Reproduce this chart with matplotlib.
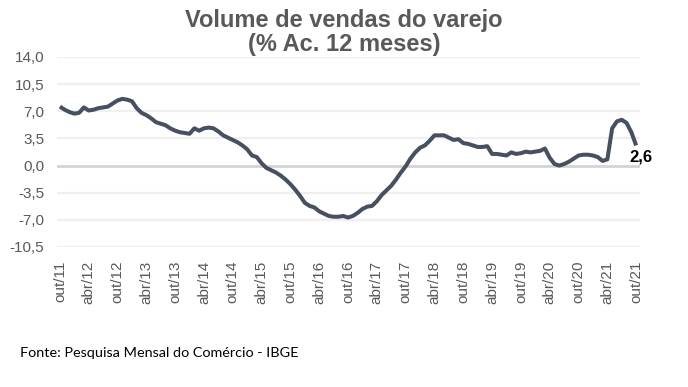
import matplotlib
matplotlib.use("Agg")
import matplotlib.pyplot as plt
import numpy as np

# Monthly values, out/2011 .. out/2021 (12-month accumulated %, retail volume)
values = [
    7.6, 7.2, 6.9, 6.7, 6.8, 7.5, 7.1, 7.2, 7.4, 7.5,      # out/11 - jul/12
    7.6, 8.0, 8.4, 8.6, 8.5, 8.3, 7.4, 6.8, 6.5, 6.1,      # ago/12 - mai/13
    5.6, 5.4, 5.2, 4.8, 4.5, 4.3, 4.2, 4.1, 4.8, 4.5,      # jun/13 - mar/14
    4.8, 4.9, 4.8, 4.4, 3.9, 3.6, 3.3, 3.0, 2.6, 2.1,      # abr/14 - jan/15
    1.3, 1.1, 0.3, -0.3, -0.6, -0.9, -1.3, -1.8, -2.4, -3.1,  # fev/15 - nov/15
    -3.9, -4.8, -5.2, -5.4, -5.9, -6.2, -6.5, -6.6, -6.6, -6.5,  # dez/15 - set/16
    -6.7, -6.5, -6.1, -5.6, -5.3, -5.2, -4.6, -3.8, -3.2, -2.6,  # out/16 - jul/17
    -1.8, -0.9, -0.1, 0.9, 1.7, 2.3, 2.6, 3.2, 3.9, 3.9,   # ago/17 - mai/18
    3.9, 3.6, 3.3, 3.4, 2.9, 2.8, 2.6, 2.4, 2.4, 2.5,      # jun/18 - mar/19
    1.5, 1.5, 1.4, 1.3, 1.7, 1.5, 1.6, 1.8, 1.7, 1.8,      # abr/19 - jan/20
    1.9, 2.2, 1.0, 0.2, 0.0, 0.2, 0.5, 0.9, 1.3, 1.4,      # fev/20 - nov/20
    1.4, 1.3, 1.1, 0.6, 0.8, 4.8, 5.7, 5.9, 5.5, 4.3,      # dez/20 - set/21
    2.6,                                                    # out/21
]
tick_labels = ["out/11", "abr/12", "out/12", "abr/13", "out/13", "abr/14", "out/14",
               "abr/15", "out/15", "abr/16", "out/16", "abr/17", "out/17", "abr/18",
               "out/18", "abr/19", "out/19", "abr/20", "out/20", "abr/21", "out/21"]
y_ticks = [-10.5, -7.0, -3.5, 0.0, 3.5, 7.0, 10.5, 14.0]
last_label = "2,6"

plt.rcParams['font.family'] = ['Liberation Sans', 'DejaVu Sans']

fig = plt.figure(figsize=(6.88, 3.87), dpi=100)
ax = fig.add_axes([57/688, 1-247/387, (640-57)/688, (247-57)/387])

x = np.arange(len(values))
line_color = '#465061'
text_gray = '#595959'

for yt in y_ticks:
    if yt == 0:
        ax.axhline(yt, color='#D4D4D4', lw=2.0, zorder=1)
    else:
        ax.axhline(yt, color='#EFEFEF', lw=1.6, zorder=1)

ax.plot(x, values, color=line_color, lw=2.9, solid_capstyle='butt', solid_joinstyle='round', zorder=3)

ax.set_xlim(-0.6, 120.8)
ax.set_ylim(-10.5, 14.0)
ax.set_yticks(y_ticks)
ax.set_yticklabels([f"{v:.1f}".replace('.', ',') for v in y_ticks])
ax.set_xticks(np.arange(0, len(values), 6))
ax.set_xticklabels(tick_labels, rotation=90)
ax.tick_params(axis='both', length=0, colors=text_gray, labelsize=11)
ax.tick_params(axis='y', pad=9)
ax.tick_params(axis='x', pad=10)
for s in ax.spines.values():
    s.set_visible(False)
ax.set_facecolor('none')

ax.annotate(last_label, (x[-1], values[-1]), xytext=(-5, -8), textcoords='offset points',
            ha='left', va='center', fontsize=12, fontweight='bold', color='black', zorder=4)

fig.text(0.5, 1-20/387, "Volume de vendas do varejo", ha='center', va='center',
         fontsize=17, fontweight='bold', color=text_gray)
fig.text(0.5, 1-45/387, "(% Ac. 12 meses)", ha='center', va='center',
         fontsize=17, fontweight='bold', color=text_gray)
fig.text(20/688, 1-353/387, "Fonte: Pesquisa Mensal do Comércio - IBGE", ha='left', va='center',
         fontsize=10.4, color='black', family=['Lato', 'DejaVu Sans'])

fig.savefig('out.png', dpi=100, facecolor='white')
